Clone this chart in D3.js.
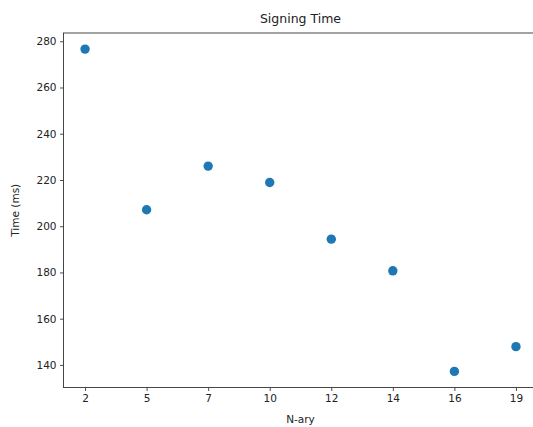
<!DOCTYPE html>
<html>
<head>
<meta charset="utf-8">
<script src="https://cdn.jsdelivr.net/npm/d3@7"></script>
<style>
  body { margin: 0; background: #fff; }
  svg { font-family: 'DejaVu Sans', sans-serif; }
</style>
</head>
<body>
<svg width="533" height="427"></svg>
<script>

let categories = ['2', '5', '7', '10', '12', '14', '16', '19']
let times = [276.6, 207.1, 226.0, 218.9, 194.4, 180.7, 137.2, 147.9]
let yTicks = [140, 160, 180, 200, 220, 240, 260, 280]

let svg = d3.select('svg')

let mLeft = 63.5, mRight = 537.5, mTop = 33, mBottom = 387.5

// categorical x like matplotlib, 5% margin each side
let x = d3.scaleLinear()
  .domain([-0.35, categories.length - 1 + 0.35])
  .range([mLeft, mRight])

let span = d3.max(times) - d3.min(times)
let y = d3.scaleLinear()
  .domain([d3.min(times) - span * 0.05, d3.max(times) + span * 0.05])
  .range([mBottom, mTop])

let xAxis = d3.axisBottom(x)
  .tickValues(d3.range(categories.length))
  .tickFormat(i => categories[i])
  .tickSizeOuter(0)
  .tickSize(3.5)
  .tickPadding(4)

let yAxis = d3.axisLeft(y)
  .tickValues(yTicks)
  .tickSizeOuter(0)
  .tickSize(3.5)
  .tickPadding(3.5)

svg.append('g')
  .attr('transform', 'translate(0,' + mBottom + ')')
  .call(xAxis)

svg.append('g')
  .attr('transform', 'translate(' + mLeft + ',0)')
  .call(yAxis)

svg.selectAll('.domain').remove()
svg.selectAll('.tick line').attr('stroke', '#222').attr('stroke-width', 0.8)
svg.selectAll('.tick text').attr('fill', '#222').style('font-size', '10.5px')
  .style('font-family', "'DejaVu Sans', sans-serif")

// spines
svg.append('rect')
  .attr('x', mLeft)
  .attr('y', mTop)
  .attr('width', mRight - mLeft)
  .attr('height', mBottom - mTop)
  .attr('fill', 'none')
  .attr('stroke', '#333')
  .attr('stroke-width', 0.9)

svg.append('g')
  .selectAll('circle')
  .data(times)
  .enter().append('circle')
  .attr('cx', (d, i) => x(i))
  .attr('cy', d => y(d))
  .attr('r', 4.7)
  .attr('fill', '#1f77b4')

svg.append('text')
  .attr('x', (mLeft + mRight) / 2)
  .attr('y', 23)
  .attr('text-anchor', 'middle')
  .style('font-size', '12.5px')
  .attr('fill', '#222')
  .text('Signing Time')

svg.append('text')
  .attr('x', (mLeft + mRight) / 2)
  .attr('y', 423)
  .attr('text-anchor', 'middle')
  .style('font-size', '10.5px')
  .attr('fill', '#222')
  .text('N-ary')

svg.append('text')
  .attr('transform', 'translate(19,' + (mTop + mBottom) / 2 + ') rotate(-90)')
  .attr('text-anchor', 'middle')
  .style('font-size', '10.5px')
  .attr('fill', '#222')
  .text('Time (ms)')

</script>
</body>
</html>
